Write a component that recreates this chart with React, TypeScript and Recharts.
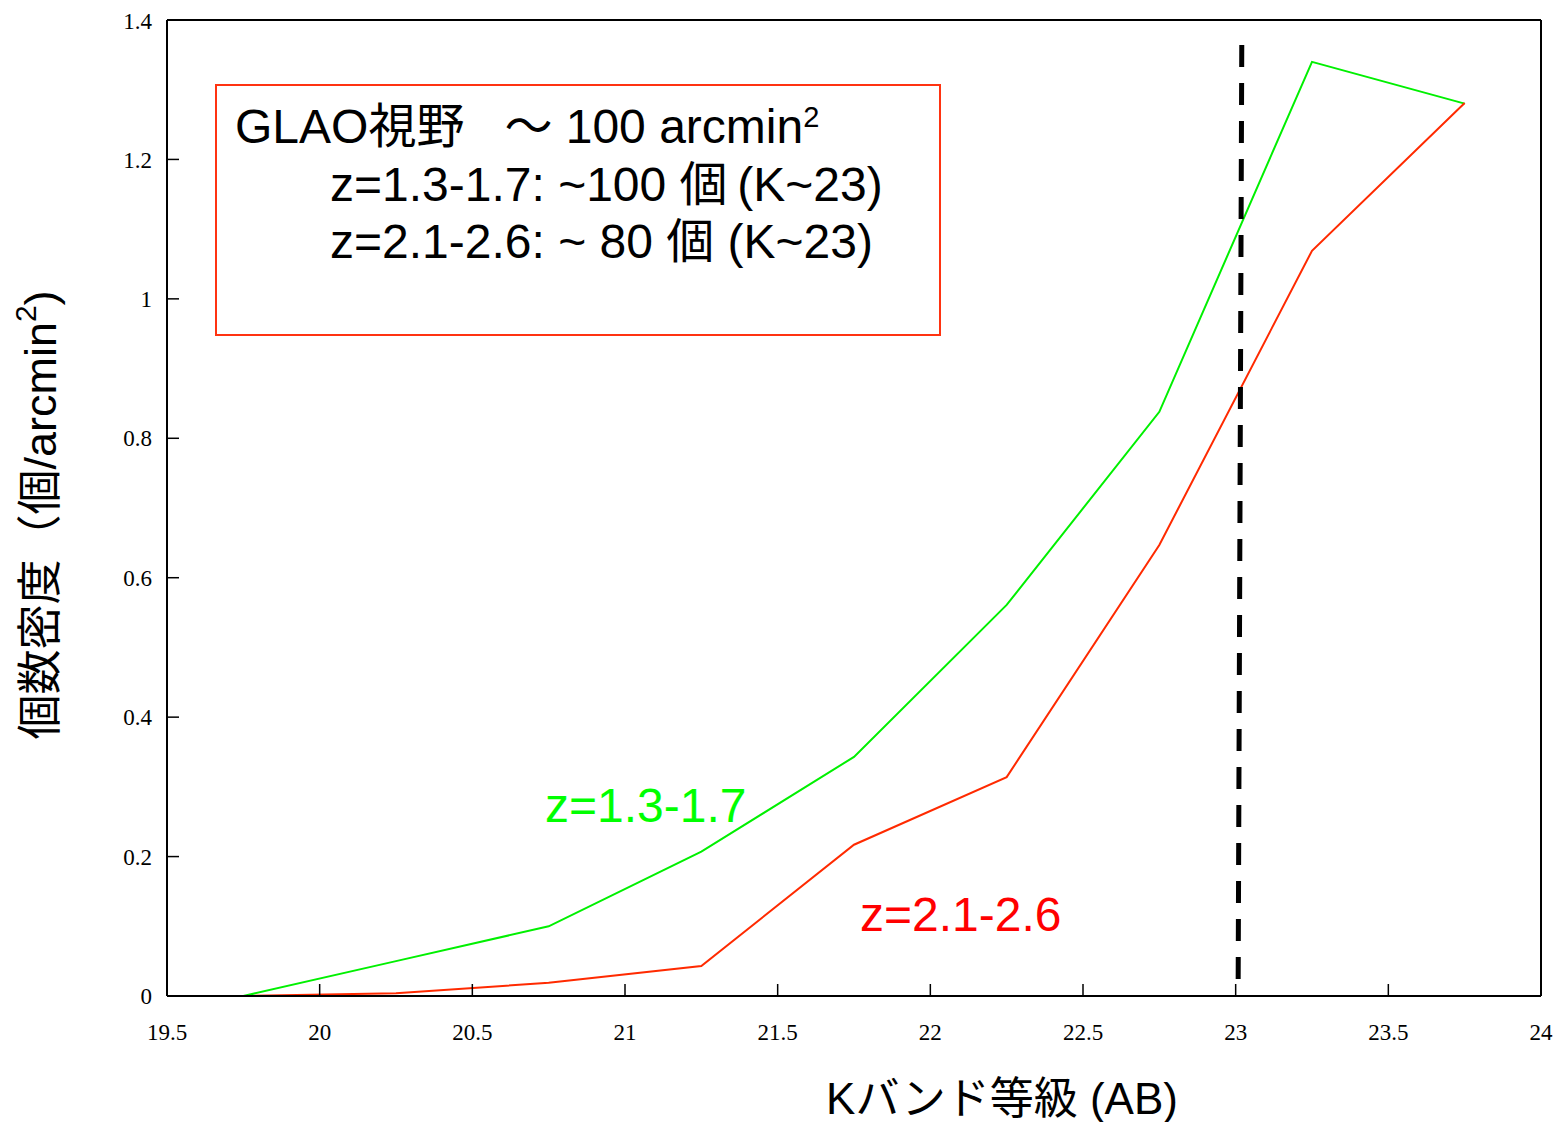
import React from 'react';
import { LineChart, Line, XAxis, YAxis, ReferenceLine } from 'recharts';

// K-band magnitude bin centres (AB)
const kMag = [19.75, 20.25, 20.75, 21.25, 21.75, 22.25, 22.75, 23.25, 23.75];
// number density (per arcmin^2), z = 1.3-1.7 (green)
const densityZ13 = [0, 0.05, 0.1, 0.207, 0.343, 0.561, 0.838, 1.34, 1.28];
// number density (per arcmin^2), z = 2.1-2.6 (red)
const densityZ21 = [0, 0.004, 0.019, 0.043, 0.217, 0.314, 0.647, 1.069, 1.281];

const xTicks = [19.5, 20, 20.5, 21, 21.5, 22, 22.5, 23, 23.5, 24];
const yTicks = [0, 0.2, 0.4, 0.6, 0.8, 1, 1.2, 1.4];

// limiting magnitude marker (dashed line)
const limitTopX = 23.02;
const limitBottomX = 23.008;
const limitTopY = 1.364;
const limitBottomY = 0;

const xTitle = 'Kバンド等級 (AB)';
const yTitleMain = '個数密度（個/arcmin';
const boxLine1 = 'GLAO視野   ～ 100 arcmin';
const boxLine2 = 'z=1.3-1.7: ~100 個\u2009(K~23)';
const boxLine3 = 'z=2.1-2.6: ~ 80 個 (K~23)';
const labelZ13 = 'z=1.3-1.7';
const labelZ21 = 'z=2.1-2.6';

const data = kMag.map((k, i) => ({ k, a: densityZ13[i], b: densityZ21[i] }));

const SANS = '"Liberation Sans", Arial, "Noto Sans CJK JP", sans-serif';
const SERIF = '"Liberation Serif", "Times New Roman", serif';
const GREEN_LINE = '#00f000';
const RED_LINE = '#ff2a00';

const XTitle = (props: any) => {
  const vb = props.viewBox || {};
  const cx = vb.x + vb.width / 2 + 148;
  const cy = vb.y + vb.height + 42;
  return (
    <text x={cx} y={cy} textAnchor="middle" dominantBaseline="central" fontFamily={SANS} fontSize={44} fill="#000">
      {xTitle}
    </text>
  );
};

const YTitle = (props: any) => {
  const vb = props.viewBox || {};
  const cx = vb.x + 32;
  const cy = vb.y + vb.height / 2 + 7;
  return (
    <text
      x={cx}
      y={cy}
      textAnchor="middle"
      dominantBaseline="central"
      fontFamily={SANS}
      fontSize={45}
      fill="#000"
      transform={`rotate(-90, ${cx}, ${cy})`}
    >
      {yTitleMain}
      <tspan fontSize={30} dy={-15}>2</tspan>
      <tspan dy={15}>)</tspan>
    </text>
  );
};

const textLine = (top: number, left: number, color: string, content: React.ReactNode) => (
  <div
    style={{
      position: 'absolute',
      top,
      left,
      fontFamily: SANS,
      fontSize: 48,
      lineHeight: '48px',
      color,
      whiteSpace: 'pre',
    }}
  >
    {content}
  </div>
);

export default function App() {
  return (
    <div style={{ position: 'relative', width: 1554, height: 1114 }}>
      <LineChart
        width={1554}
        height={1114}
        data={data}
        margin={{ top: 11, right: 20, left: 0, bottom: 66 }}
      >
        <XAxis
          xAxisId="bottom"
          dataKey="k"
          type="number"
          domain={[19.5, 24]}
          ticks={xTicks}
          height={60}
          tickSize={-12}
          tickMargin={40}
          axisLine={{ stroke: '#000', strokeWidth: 2 }}
          tickLine={{ stroke: '#000', strokeWidth: 1.5 }}
          tick={{ fontFamily: SERIF, fontSize: 23, fill: '#000' }}
          label={XTitle}
        />
        <XAxis
          xAxisId="top"
          orientation="top"
          dataKey="k"
          type="number"
          domain={[19.5, 24]}
          ticks={xTicks}
          height={1}
          tickSize={-12}
          axisLine={{ stroke: '#000', strokeWidth: 2 }}
          tickLine={{ stroke: '#000', strokeWidth: 1.5 }}
          tick={false}
        />
        <YAxis
          yAxisId="left"
          type="number"
          domain={[0, 1.4]}
          ticks={yTicks}
          width={159}
          tickSize={-12}
          tickMargin={27}
          axisLine={{ stroke: '#000', strokeWidth: 2 }}
          tickLine={{ stroke: '#000', strokeWidth: 1.5 }}
          tick={{ fontFamily: SERIF, fontSize: 23, fill: '#000' }}
          label={YTitle}
        />
        <YAxis
          yAxisId="right"
          orientation="right"
          type="number"
          domain={[0, 1.4]}
          ticks={yTicks}
          width={1}
          tickSize={-12}
          axisLine={{ stroke: '#000', strokeWidth: 2 }}
          tickLine={{ stroke: '#000', strokeWidth: 1.5 }}
          tick={false}
        />
        <Line
          xAxisId="bottom"
          yAxisId="left"
          type="linear"
          dataKey="a"
          stroke={GREEN_LINE}
          strokeWidth={2}
          dot={false}
          isAnimationActive={false}
        />
        <Line
          xAxisId="bottom"
          yAxisId="left"
          type="linear"
          dataKey="b"
          stroke={RED_LINE}
          strokeWidth={2}
          dot={false}
          isAnimationActive={false}
        />
        <ReferenceLine
          xAxisId="bottom"
          yAxisId="left"
          segment={[
            { x: limitTopX, y: limitTopY },
            { x: limitBottomX, y: limitBottomY },
          ]}
          stroke="#000"
          strokeWidth={5}
          strokeDasharray="22 16"
        />
      </LineChart>

      <div
        style={{
          position: 'absolute',
          left: 207,
          top: 76,
          width: 726,
          height: 252,
          boxSizing: 'border-box',
          border: '2px solid #ff3311',
        }}
      />
      {textLine(95, 227, '#000', (
        <>
          {boxLine1}
          <span style={{ position: 'relative', top: -16, fontSize: 29 }}>2</span>
        </>
      ))}
      {textLine(153, 322, '#000', boxLine2)}
      {textLine(210, 322, '#000', boxLine3)}
      {textLine(774, 537, '#00ff00', labelZ13)}
      {textLine(883, 852, '#ff0000', labelZ21)}
    </div>
  );
}
